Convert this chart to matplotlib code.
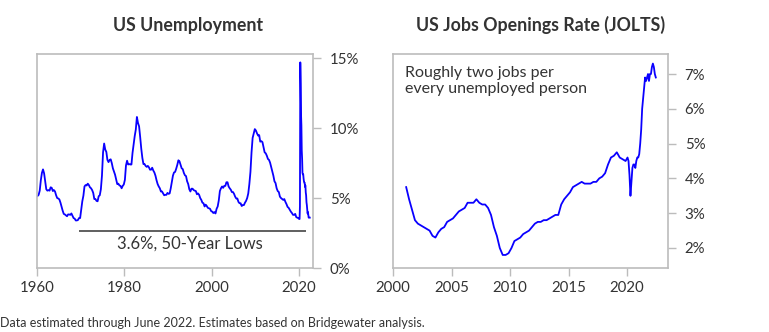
import numpy as np
import matplotlib.pyplot as plt

plt.rcParams['font.family'] = ['Lato', 'DejaVu Sans']

# US unemployment rate (%), quarterly 1960Q1-2019Q4
unemp_quarterly = [
    5.15, 5.23, 5.53, 6.27,  6.8, 7.05, 6.77, 6.2,   5.63, 5.53, 5.57, 5.53,
    5.77, 5.73, 5.5, 5.57,   5.47, 5.2, 5.0, 4.97,   4.9, 4.67, 4.37, 4.1,
    3.87, 3.83, 3.77, 3.7,   3.83, 3.83, 3.8, 3.9,   3.73, 3.57, 3.53, 3.4,
    3.4, 3.43, 3.57, 3.57,   4.17, 4.77, 5.17, 5.83, 5.93, 5.9, 6.03, 5.93,
    5.77, 5.7, 5.57, 5.37,   4.93, 4.93, 4.8, 4.77,  5.13, 5.2, 5.63, 6.6,
    8.27, 8.9, 8.47, 8.3,    7.73, 7.57, 7.73, 7.77, 7.5, 7.13, 6.9, 6.67,
    6.33, 6.0, 6.03, 5.9,    5.87, 5.7, 5.87, 5.97,  6.3, 7.33, 7.67, 7.4,
    7.43, 7.4, 7.4, 8.23,    8.83, 9.43, 9.9, 10.8,  10.37, 10.13, 9.37, 8.53,
    7.87, 7.43, 7.43, 7.3,   7.23, 7.3, 7.2, 7.03,   7.03, 7.17, 6.97, 6.83,
    6.6, 6.27, 6.0, 5.83,    5.7, 5.47, 5.47, 5.33,  5.2, 5.23, 5.23, 5.37,
    5.3, 5.33, 5.7, 6.13,    6.6, 6.83, 6.87, 7.1,   7.37, 7.7, 7.63, 7.37,
    7.13, 7.07, 6.8, 6.63,   6.57, 6.2, 6.0, 5.63,   5.47, 5.67, 5.67, 5.57,
    5.53, 5.5, 5.27, 5.33,   5.23, 5.0, 4.87, 4.67,  4.63, 4.4, 4.53, 4.43,
    4.3, 4.27, 4.23, 4.07,   4.03, 3.93, 4.0, 3.9,   4.23, 4.4, 4.83, 5.5,
    5.7, 5.83, 5.73, 5.87,   5.87, 6.13, 6.13, 5.83, 5.7, 5.6, 5.43, 5.43,
    5.3, 5.1, 4.97, 4.97,    4.73, 4.63, 4.63, 4.43, 4.5, 4.5, 4.67, 4.8,
    5.0, 5.33, 6.0, 6.87,    8.27, 9.3, 9.63, 9.93,  9.83, 9.63, 9.47, 9.5,
    9.03, 9.07, 9.0, 8.63,   8.27, 8.2, 8.03, 7.8,   7.73, 7.53, 7.23, 6.93,
    6.6, 6.2, 6.07, 5.7,     5.5, 5.43, 5.1, 5.0,    4.93, 4.87, 4.93, 4.73,
    4.57, 4.37, 4.3, 4.17,   4.03, 3.93, 3.8, 3.8,   3.87, 3.63, 3.6, 3.55,
]
# monthly Jan 2020 - Jun 2022
unemp_monthly = [
    3.5, 3.5, 4.4, 14.7, 13.2, 11.0, 10.2, 8.4, 7.8, 6.8, 6.7, 6.7,
    6.4, 6.2, 6.1, 6.1, 5.8, 5.9, 5.4, 5.2, 4.7, 4.5, 4.2, 3.9,
    4.0, 3.8, 3.6, 3.6, 3.6, 3.6,
]

# JOLTS job openings rate (%), quarterly 2001Q1-2019Q4
jolts_quarterly = [
    3.75, 3.4, 3.1, 2.8,   2.7, 2.65, 2.6, 2.55,  2.5, 2.35, 2.3, 2.45,
    2.55, 2.6, 2.75, 2.8,  2.85, 2.95, 3.05, 3.1, 3.15, 3.3, 3.3, 3.3,
    3.4, 3.3, 3.25, 3.25,  3.15, 2.95, 2.6, 2.35, 2.0, 1.8, 1.8, 1.85,
    2.0, 2.2, 2.25, 2.3,   2.4, 2.45, 2.5, 2.6,   2.7, 2.75, 2.75, 2.8,
    2.8, 2.85, 2.9, 2.95,  2.95, 3.25, 3.4, 3.5,  3.6, 3.75, 3.8, 3.85,
    3.9, 3.85, 3.85, 3.85, 3.9, 3.9, 4.0, 4.05,   4.15, 4.4, 4.6, 4.65,
    4.75, 4.6, 4.55, 4.5,
]
# monthly Jan 2020 - Jun 2022
jolts_monthly = [
    4.6, 4.5, 4.1, 3.5, 3.9, 4.3, 4.4, 4.4, 4.3, 4.5, 4.6, 4.6,
    4.7, 5.0, 5.4, 6.0, 6.3, 6.6, 6.9, 6.8, 6.9, 7.0, 6.8, 7.0,
    7.0, 7.2, 7.3, 7.2, 7.0, 6.9,
]

unemp_x = np.concatenate([1960 + 0.125 + 0.25 * np.arange(len(unemp_quarterly)),
                          2020 + (np.arange(len(unemp_monthly)) + 0.5) / 12])
unemp_y = np.array(unemp_quarterly + unemp_monthly)
jolts_x = np.concatenate([2001 + 0.125 + 0.25 * np.arange(len(jolts_quarterly)),
                          2020 + (np.arange(len(jolts_monthly)) + 0.5) / 12])
jolts_y = np.array(jolts_quarterly + jolts_monthly)

line_color = '#0a00ff'
spine_color = '#bcbcbc'
text_color = '#333333'

fig = plt.figure(figsize=(7.69, 3.32), dpi=100)
ax1 = fig.add_axes([37 / 769, 1 - 268 / 332, 276 / 769, 214 / 332])
ax2 = fig.add_axes([393 / 769, 1 - 268 / 332, 275 / 769, 214 / 332])

for ax in (ax1, ax2):
    for s in ax.spines.values():
        s.set_color(spine_color)
        s.set_linewidth(1.2)
    ax.yaxis.tick_right()
    ax.tick_params(axis='both', direction='out', length=6, width=1,
                   color=spine_color, labelcolor=text_color, labelsize=10.8)
    ax.tick_params(axis='y', pad=6)
    ax.tick_params(axis='x', pad=3)

ax1.plot(unemp_x, unemp_y, color=line_color, lw=1.3)
ax1.set_xlim(1960, 2023.2)
ax1.set_ylim(0, 15.3)
ax1.set_xticks([1960, 1980, 2000, 2020])
ax1.set_yticks([0, 5, 10, 15])
ax1.set_yticklabels(['0%', '5%', '10%', '15%'])
ax1.hlines(2.64, 1969.6, 2021.6, color='#444444', lw=1.2)
ax1.text(1995, 1.75, '3.6%, 50-Year Lows', ha='center', va='center',
         fontsize=12, color=text_color)

ax2.plot(jolts_x, jolts_y, color=line_color, lw=1.3)
ax2.set_xlim(2000, 2023.5)
ax2.set_ylim(1.425, 7.575)
ax2.set_xticks([2000, 2005, 2010, 2015, 2020])
ax2.set_yticks([2, 3, 4, 5, 6, 7])
ax2.set_yticklabels(['2%', '3%', '4%', '5%', '6%', '7%'])
ax2.text(0.045, 0.945, 'Roughly two jobs per\nevery unemployed person',
         transform=ax2.transAxes, ha='left', va='top', fontsize=11.5,
         color=text_color, linespacing=1.2)

fig.text(188 / 769, 1 - 25 / 332, 'US Unemployment', ha='center', va='center',
         fontsize=12.8, fontweight='bold', color=text_color)
fig.text(541 / 769, 1 - 25 / 332, 'US Jobs Openings Rate (JOLTS)', ha='center',
         va='center', fontsize=12.8, fontweight='bold', color=text_color)
fig.text(0.0, 1 - 323 / 332,
         'Data estimated through June 2022. Estimates based on Bridgewater analysis.',
         ha='left', va='center', fontsize=9, color=text_color)

fig.savefig('out.png', dpi=100)
